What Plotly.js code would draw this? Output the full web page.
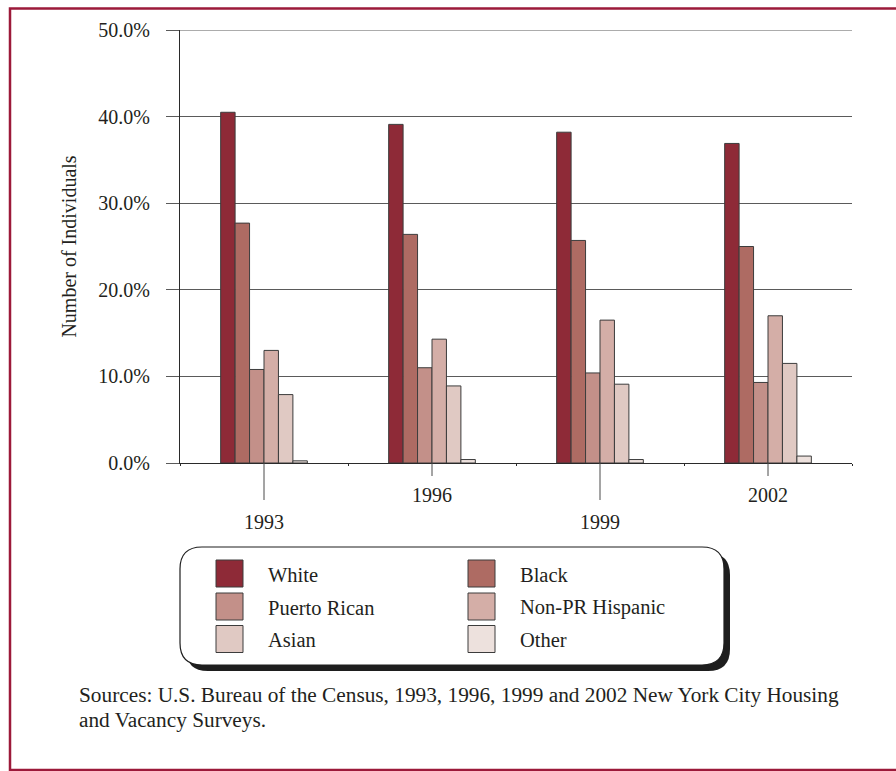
<!DOCTYPE html>
<html>
<head>
<meta charset="utf-8">
<script src="https://cdn.plot.ly/plotly-3.0.1.min.js"></script>
<style>
  html, body { margin: 0; padding: 0; background: #ffffff; }
  #chart { width: 896px; height: 771px; }
</style>
</head>
<body>
<div id="chart"></div>
<script>
// Survey years (categories)
const years = ['1993', '1996', '1999', '2002'];

// Population groups, in legend order
const groupNames = ['White', 'Black', 'Puerto Rican', 'Non-PR Hispanic', 'Asian', 'Other'];

// Share of individuals per group, percent
const white         = [40.5, 39.1, 38.2, 36.9];
const black         = [27.7, 26.4, 25.7, 25.0];
const puertoRican   = [10.8, 11.0, 10.4, 9.3];
const nonPRHispanic = [13.0, 14.3, 16.5, 17.0];
const asian         = [7.9, 8.9, 9.1, 11.5];
const other         = [0.25, 0.4, 0.4, 0.8];

// Y axis ticks
const yTickVals = [0, 10, 20, 30, 40, 50];
const yTickText = ['0.0%', '10.0%', '20.0%', '30.0%', '40.0%', '50.0%'];

const sourceLines = [
  'Sources: U.S. Bureau of the Census, 1993, 1996, 1999 and 2002 New York City Housing',
  'and Vacancy Surveys.'
];

// ---- styling ----
const seriesValues = [white, black, puertoRican, nonPRHispanic, asian, other];
const seriesColors = ['#8e2a37', '#ae6b63', '#c39089', '#d4aea7', '#e0c9c3', '#ede1dd'];
const FONT = 'Liberation Serif, Times New Roman, serif';
const TEXT = '#231f20';
const FS = 20;
const GRID = '#5a5a5a';

const W = 896, H = 771;
const PL = 180, PR = 852, PT = 30, PB = 463;
// pixel -> paper fraction helpers for annotations / shapes in the margins
const px = x => (x - PL) / (PR - PL);
const py = y => (PB - y) / (PB - PT);

function roundRect(x0, y0, x1, y1, r) {
  const P = (x, y) => px(x) + ',' + py(y);
  return 'M' + P(x0 + r, y0) + ' L' + P(x1 - r, y0) + ' Q' + P(x1, y0) + ' ' + P(x1, y0 + r) +
         ' L' + P(x1, y1 - r) + ' Q' + P(x1, y1) + ' ' + P(x1 - r, y1) +
         ' L' + P(x0 + r, y1) + ' Q' + P(x0, y1) + ' ' + P(x0, y1 - r) +
         ' L' + P(x0, y0 + r) + ' Q' + P(x0, y0) + ' ' + P(x0 + r, y0) + ' Z';
}

const traces = groupNames.map((name, i) => ({
  type: 'bar',
  name: name,
  x: years,
  y: seriesValues[i],
  marker: { color: seriesColors[i], line: { color: '#3c3c3c', width: 1 } },
  showlegend: false,
  hoverinfo: 'skip'
}));

const shapes = [];
const annotations = [];

// outer frame
shapes.push({
  type: 'rect', xref: 'paper', yref: 'paper', layer: 'above',
  x0: px(10), x1: px(905), y0: py(8.5), y1: py(770),
  line: { color: '#9c1a3a', width: 2.5 }, fillcolor: 'rgba(0,0,0,0)'
});

// top gridline at the axis maximum
shapes.push({
  type: 'line', xref: 'paper', yref: 'y', layer: 'below',
  x0: 0, x1: 1, y0: yTickVals[yTickVals.length - 1], y1: yTickVals[yTickVals.length - 1],
  line: { color: GRID, width: 1 }
});

// staggered year ticks and labels (category index on the x axis)
const tickDrop = [37, 13];
const labelY = [522, 495];
years.forEach((yr, i) => {
  const k = i % 2;
  shapes.push({
    type: 'line', xref: 'x', yref: 'paper', layer: 'above',
    x0: i, x1: i, y0: py(PB), y1: py(PB + tickDrop[k]),
    line: { color: '#4a4a4a', width: 1 }
  });
  annotations.push({
    xref: 'x', yref: 'paper', x: i, y: py(labelY[k]),
    xanchor: 'center', yanchor: 'middle', showarrow: false,
    text: yr, font: { family: FONT, size: FS, color: TEXT }
  });
});

// legend box with drop shadow
shapes.push({
  type: 'path', xref: 'paper', yref: 'paper', layer: 'above',
  path: roundRect(186, 553, 730, 671, 22),
  fillcolor: '#1e1e1e', line: { width: 0 }
});
shapes.push({
  type: 'path', xref: 'paper', yref: 'paper', layer: 'above',
  path: roundRect(180, 547, 724, 665, 22),
  fillcolor: '#ffffff', line: { color: '#1e1e1e', width: 1.2 }
});

// legend entries: two columns, three rows
const colSwatchX = [216, 468];
const colTextX = [266, 518];
const rowY = [573.5, 606.5, 639];
const SW = 27;
groupNames.forEach((name, i) => {
  const c = i % 2, r = Math.floor(i / 2);
  shapes.push({
    type: 'rect', xref: 'paper', yref: 'paper', layer: 'above',
    x0: px(colSwatchX[c]), x1: px(colSwatchX[c] + SW),
    y0: py(rowY[r] - SW / 2), y1: py(rowY[r] + SW / 2),
    fillcolor: seriesColors[i], line: { color: '#3c3c3c', width: 1 }
  });
  annotations.push({
    xref: 'paper', yref: 'paper', x: px(colTextX[c]), y: py(rowY[r] + 1),
    xanchor: 'left', yanchor: 'middle', showarrow: false,
    text: name, font: { family: FONT, size: 20.5, color: TEXT }
  });
});

// source note, one annotation per line
const sourceY = [695, 720];
sourceLines.forEach((line, i) => {
  annotations.push({
    xref: 'paper', yref: 'paper', x: px(77), y: py(sourceY[i]),
    xanchor: 'left', yanchor: 'middle', align: 'left', showarrow: false,
    text: line, font: { family: FONT, size: 21.3, color: TEXT }
  });
});

const layout = {
  width: W, height: H,
  margin: { l: PL, r: W - PR, t: PT, b: H - PB, pad: 0 },
  paper_bgcolor: '#ffffff', plot_bgcolor: '#ffffff',
  font: { family: FONT, size: FS, color: TEXT },
  barmode: 'group', bargap: 0.484, bargroupgap: 0,
  showlegend: false,
  xaxis: {
    type: 'category', range: [-0.5, years.length - 0.5], autorange: false,
    showgrid: false, zeroline: false,
    showline: true, linecolor: '#2a2a2a', linewidth: 1,
    ticks: 'outside', tickson: 'boundaries', ticklen: 2, tickcolor: '#2a2a2a',
    showticklabels: false, fixedrange: true
  },
  yaxis: {
    range: [0, 50], autorange: false, tickvals: yTickVals, ticktext: yTickText,
    showgrid: true, gridcolor: GRID, gridwidth: 1,
    zeroline: false,
    showline: true, linecolor: '#2a2a2a', linewidth: 1,
    ticks: 'outside', ticklen: 13, tickcolor: GRID, tickwidth: 1,
    ticklabelstandoff: 12,
    tickfont: { family: FONT, size: FS, color: TEXT },
    title: { text: 'Number of Individuals', font: { family: FONT, size: FS, color: TEXT }, standoff: 16 },
    automargin: false, fixedrange: true
  },
  shapes: shapes,
  annotations: annotations
};

Plotly.newPlot('chart', traces, layout, { displayModeBar: false, staticPlot: true });
</script>
</body>
</html>
